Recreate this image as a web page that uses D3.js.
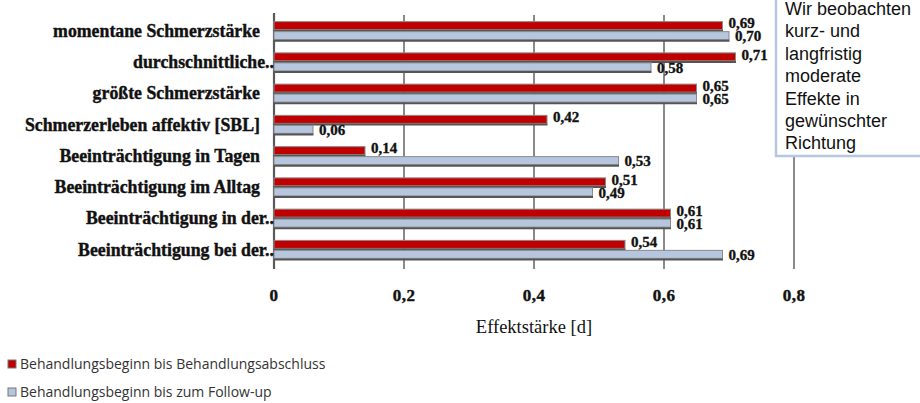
<!DOCTYPE html>
<html>
<head>
<meta charset="utf-8">
<script src="https://cdn.jsdelivr.net/npm/d3@7"></script>
<style>
  html, body { margin: 0; padding: 0; background: #fff; }
  svg { display: block; }
</style>
</head>
<body>
<script>
// Effektstärken je Zielgröße, zwei Messzeiträume
const categories = [
  "momentane Schmerzstärke",
  "durchschnittliche..",
  "größte Schmerzstärke",
  "Schmerzerleben affektiv [SBL]",
  "Beeinträchtigung in Tagen",
  "Beeinträchtigung im Alltag",
  "Beeinträchtigung in der..",
  "Beeinträchtigung bei der.."
];
const abschluss = [0.69, 0.71, 0.65, 0.42, 0.14, 0.51, 0.61, 0.54];
const followUp  = [0.70, 0.58, 0.65, 0.06, 0.53, 0.49, 0.61, 0.69];
const xTicks = [0, 0.2, 0.4, 0.6, 0.8];
const seriesNames = [
  "Behandlungsbeginn bis Behandlungsabschluss",
  "Behandlungsbeginn bis zum Follow-up"
];
const noteLines = ["Wir beobachten", "kurz- und", "langfristig", "moderate", "Effekte in", "gewünschter", "Richtung"];

const W = 920, H = 403;
const RED = "#c00000", BLUE = "#b6c6de";
const fmt = v => d3.format(".2f")(v).replace(".", ",");
const fmtTick = v => (v === 0 ? "0" : String(+v.toFixed(1))).replace(".", ",");

const svg = d3.select("body").append("svg").attr("width", W).attr("height", H);

const x = d3.scaleLinear().domain([0, 0.8]).range([274, 794]);
const y = d3.scaleBand().domain(categories).range([15, 265]);

// vertical grid lines with small ticks below the plot
svg.append("g").selectAll("line").data(xTicks.slice(1)).join("line")
  .attr("x1", d => x(d)).attr("x2", d => x(d))
  .attr("y1", 15).attr("y2", 269)
  .attr("stroke", "#8a8a8a").attr("stroke-width", 2);

// value axis at zero
svg.append("line")
  .attr("x1", x(0)).attr("x2", x(0)).attr("y1", 13).attr("y2", 269)
  .attr("stroke", "#5a5a5a").attr("stroke-width", 2.2);

const rows = categories.map((c, i) => ({ c, a: abschluss[i], f: followUp[i] }));

// one series: bars, a dark lower edge, and the value label after each bar
function drawBars(key, color, offset, labelShift) {
  const g = svg.append("g");
  const top = d => y(d.c) + y.bandwidth() / 2 + offset;
  g.selectAll("rect").data(rows).join("rect")
    .attr("x", x(0)).attr("y", top)
    .attr("width", d => x(d[key]) - x(0)).attr("height", 8)
    .attr("fill", color).attr("stroke", "#8a8a8a").attr("stroke-width", 1);
  g.selectAll("line").data(rows).join("line")
    .attr("x1", x(0)).attr("x2", d => x(d[key]) + 0.5)
    .attr("y1", d => top(d) + 9).attr("y2", d => top(d) + 9)
    .attr("stroke", "#555").attr("stroke-width", 2);
  g.selectAll("text").data(rows).join("text")
    .attr("x", d => x(d[key]) + 6)
    .attr("y", d => top(d) + labelShift)
    .attr("dy", "0.35em")
    .attr("font-family", "Liberation Serif")
    .attr("font-weight", "bold")
    .attr("font-size", 15)
    .attr("stroke", "#111").attr("stroke-width", 0.35)
    .attr("fill", "#111")
    .text(d => fmt(d[key]));
}
drawBars("a", RED, -9, 1.5);
drawBars("f", BLUE, 1, 4.5);

// category labels
svg.append("g").selectAll("text").data(categories).join("text")
  .attr("x", d => d.endsWith("..") ? 274 : 260)
  .attr("y", d => y(d) + y.bandwidth() / 2)
  .attr("dy", "0.35em")
  .attr("text-anchor", "end")
  .attr("font-family", "Liberation Serif")
  .attr("font-weight", "bold")
  .attr("font-size", 17.8)
  .attr("stroke", "#111").attr("stroke-width", 0.4)
  .attr("fill", "#111")
  .text(d => d);

// tick labels
svg.append("g").selectAll("text").data(xTicks).join("text")
  .attr("x", d => x(d)).attr("y", 295).attr("dy", "0.35em")
  .attr("text-anchor", "middle")
  .attr("font-family", "Liberation Serif").attr("font-weight", "bold")
  .attr("font-size", 17).attr("letter-spacing", 0.5)
  .attr("stroke", "#111").attr("stroke-width", 0.4)
  .attr("fill", "#111")
  .text(fmtTick);

// axis title
svg.append("text")
  .attr("x", (x(0) + x(0.8)) / 2).attr("y", 327).attr("dy", "0.35em")
  .attr("text-anchor", "middle")
  .attr("font-family", "Liberation Serif").attr("font-size", 18.5).attr("fill", "#111")
  .text("Effektstärke [d]");

// note box
const note = svg.append("g");
note.append("rect")
  .attr("x", 776).attr("y", -4).attr("width", 170).attr("height", 160)
  .attr("fill", "#fff").attr("stroke", "#b7c7e1").attr("stroke-width", 2.5);
note.selectAll("text").data(noteLines).join("text")
  .attr("x", 785).attr("y", (d, i) => 15 + i * 22.4)
  .attr("font-family", "Liberation Sans").attr("font-size", 18).attr("fill", "#111")
  .text(d => d);

// legend
const legend = svg.append("g");
const legColors = [RED, BLUE];
seriesNames.forEach((name, i) => {
  const cy = 364 + i * 28;
  legend.append("rect")
    .attr("x", 8).attr("y", cy - 4).attr("width", 8).attr("height", 8)
    .attr("fill", legColors[i]).attr("stroke", "#777").attr("stroke-width", 1);
  legend.append("text")
    .attr("x", 20).attr("y", cy).attr("dy", "0.35em")
    .attr("font-family", "Open Sans").attr("font-size", 14).attr("fill", "#333")
    .text(name);
});
</script>
</body>
</html>
